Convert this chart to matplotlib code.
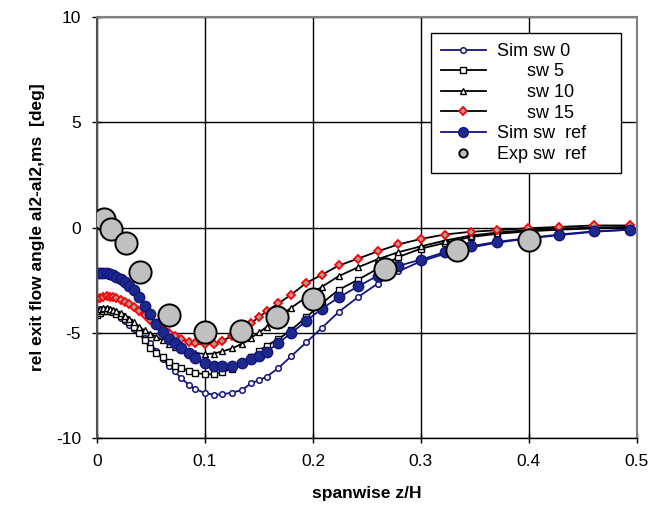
import numpy as np
import matplotlib
matplotlib.use("Agg")
import matplotlib.pyplot as plt

plt.rcParams['font.family'] = ['Liberation Sans', 'DejaVu Sans']
plt.rcParams['axes.unicode_minus'] = False

# spanwise positions of the simulation points (shared by all sims)
z_sim = [0.000, 0.003, 0.006, 0.009, 0.012, 0.015, 0.018, 0.022, 0.026, 0.030,
         0.034, 0.039, 0.044, 0.049, 0.055, 0.061, 0.067, 0.072, 0.078, 0.085,
         0.091, 0.100, 0.108, 0.116, 0.125, 0.134, 0.143, 0.150, 0.157, 0.168,
         0.180, 0.194, 0.208, 0.224, 0.242, 0.260, 0.279, 0.300, 0.322, 0.346,
         0.370, 0.399, 0.428, 0.460, 0.494]

sim_sw0 = [-3.90, -3.85, -3.85, -3.88, -3.95, -4.03, -4.12, -4.28, -4.45, -4.62,
           -4.80, -5.00, -5.22, -5.50, -5.85, -6.25, -6.58, -6.83, -7.15, -7.46,
           -7.66, -7.86, -7.93, -7.92, -7.83, -7.72, -7.38, -7.25, -7.08, -6.67,
           -6.10, -5.44, -4.77, -4.00, -3.29, -2.66, -2.08, -1.60, -1.25, -0.95,
           -0.72, -0.52, -0.36, -0.20, -0.10]

sim_sw5 = [-4.13, -4.05, -3.97, -3.95, -3.97, -4.02, -4.10, -4.22, -4.35, -4.50,
           -4.70, -5.00, -5.35, -5.70, -5.95, -6.15, -6.40, -6.55, -6.65, -6.82,
           -6.90, -6.96, -6.97, -6.87, -6.70, -6.45, -6.15, -5.85, -5.60, -5.30,
           -4.85, -4.25, -3.60, -2.95, -2.47, -1.95, -1.40, -1.00, -0.73, -0.45,
           -0.30, -0.18, -0.10, -0.04, 0.00]

sim_sw10 = [-3.95, -3.88, -3.83, -3.82, -3.85, -3.90, -3.97, -4.07, -4.20, -4.35,
            -4.50, -4.70, -4.88, -5.03, -5.18, -5.35, -5.52, -5.65, -5.76, -5.87,
            -5.95, -6.00, -5.98, -5.88, -5.74, -5.52, -5.22, -4.98, -4.72, -4.25,
            -3.80, -3.30, -2.82, -2.30, -1.88, -1.50, -1.17, -0.89, -0.62, -0.38,
            -0.24, -0.12, -0.05, 0.00, 0.03]

sim_sw15 = [-3.40, -3.33, -3.28, -3.27, -3.28, -3.30, -3.35, -3.42, -3.52, -3.64,
            -3.78, -3.97, -4.17, -4.38, -4.62, -4.82, -5.00, -5.13, -5.28, -5.42,
            -5.50, -5.55, -5.52, -5.38, -5.15, -4.85, -4.52, -4.25, -3.98, -3.60,
            -3.18, -2.62, -2.25, -1.80, -1.47, -1.13, -0.80, -0.54, -0.33, -0.20,
            -0.13, -0.03, 0.03, 0.10, 0.10]

sim_ref = [-2.15, -2.15, -2.16, -2.18, -2.22, -2.27, -2.34, -2.45, -2.58, -2.75,
           -2.95, -3.30, -3.72, -4.12, -4.60, -4.95, -5.28, -5.50, -5.72, -5.95,
           -6.20, -6.42, -6.55, -6.59, -6.55, -6.42, -6.25, -6.08, -5.90, -5.48,
           -5.00, -4.42, -3.86, -3.31, -2.79, -2.28, -1.82, -1.52, -1.17, -0.89,
           -0.68, -0.50, -0.33, -0.18, -0.10]

z_exp = [0.0067, 0.0133, 0.0267, 0.04, 0.0667, 0.1, 0.1333, 0.1667, 0.2,
         0.2667, 0.3333, 0.4]
exp_ref = [0.42, -0.05, -0.73, -2.10, -4.15, -4.97, -4.90, -4.24, -3.37,
           -1.96, -1.08, -0.57]

fig = plt.figure(figsize=(6.69, 5.28), dpi=100)
ax = fig.add_axes([0.145, 0.170, 0.807, 0.798])

navy = '#141480'
ax.plot(z_sim, sim_sw0, color=navy, lw=1.3, marker='o', ms=4, mfc='white',
        mec=navy, mew=1.1, label='Sim sw 0')
ax.plot(z_sim, sim_sw5, color='black', lw=1.3, marker='s', ms=4, mfc='white',
        mec='black', mew=1.0, label='      sw 5')
ax.plot(z_sim, sim_sw10, color='black', lw=1.3, marker='^', ms=4.5, mfc='white',
        mec='black', mew=1.0, label='      sw 10')
ax.plot(z_sim, sim_sw15, color='black', lw=1.3, marker='D', ms=4, mfc='#a0a0a0',
        mec='red', mew=1.3, label='      sw 15')
ax.plot(z_sim, sim_ref, color=navy, lw=1.3, marker='o', ms=7.5, mfc='#1c2a8c',
        mec=navy, mew=1.0, label='Sim sw  ref')
ax.plot(z_exp, exp_ref, ls='none', marker='o', ms=16, mfc='#c0c0c0',
        mec='black', mew=1.4, label='Exp sw  ref     ', zorder=5)

ax.set_xlim(0, 0.5)
ax.set_ylim(-10, 10)
ax.set_xticks([0, 0.1, 0.2, 0.3, 0.4, 0.5])
ax.set_xticklabels(['0', '0.1', '0.2', '0.3', '0.4', '0.5'])
ax.set_yticks([-10, -5, 0, 5, 10])
ax.tick_params(direction='inout', length=7, width=1, labelsize=12.5, pad=8)
ax.grid(True, color='black', lw=1.0)
ax.set_axisbelow(True)

for side in ['top', 'right']:
    ax.spines[side].set_color('#808080')
    ax.spines[side].set_linewidth(1.5)
ax.spines['left'].set_color('#505050')
ax.spines['left'].set_linewidth(1.5)
ax.spines['bottom'].set_linewidth(1.0)

ax.set_xlabel('spanwise z/H', fontsize=12.5, fontweight='bold', labelpad=12)
ax.set_ylabel('rel exit flow angle al2-al2,ms  [deg]', fontsize=12.5,
              fontweight='bold', labelpad=8)

leg = ax.legend(loc='upper right', bbox_to_anchor=(0.97, 0.962), fontsize=13,
                fancybox=False, edgecolor='black', framealpha=1,
                handlelength=2.5, handletextpad=0.6, labelspacing=0.2,
                borderpad=0.55, borderaxespad=0)
leg.get_frame().set_linewidth(1.0)
leg.legend_handles[4].set_markersize(7)
leg.legend_handles[5].set_markersize(6)

fig.savefig('out.png', dpi=100)
